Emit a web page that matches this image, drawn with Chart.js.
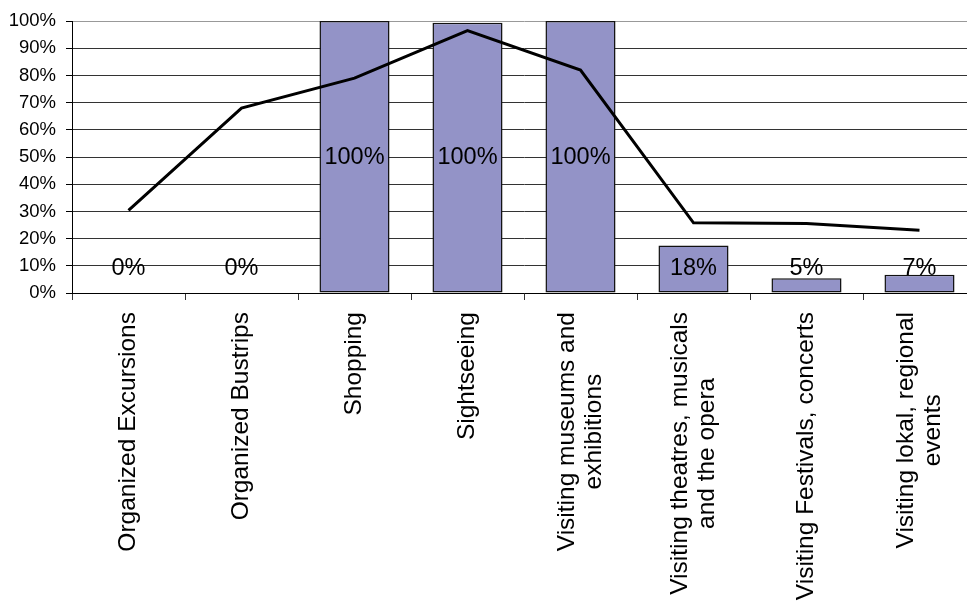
<!DOCTYPE html>
<html>
<head>
<meta charset="utf-8">
<script src="https://cdn.jsdelivr.net/npm/chart.js@4.4.1/dist/chart.umd.min.js"></script>
<style>
  html, body { margin: 0; padding: 0; background: #fff; overflow: hidden; }
  #wrap { width: 967px; height: 603px; overflow: hidden; }
  #box { width: 990px; height: 603px; }
</style>
</head>
<body>
<div id="wrap"><div id="box"><canvas id="chart"></canvas></div></div>
<script>
// data
var categories = [
  'Organized Excursions',
  'Organized Bustrips',
  'Shopping',
  'Sightseeing',
  ['Visiting museums and', 'exhibitions'],
  ['Visiting theatres, musicals', 'and the opera'],
  'Visiting Festivals, concerts',
  ['Visiting lokal, regional', 'events']
];
var barValues = [0, 0, 100, 99.4, 100, 17.5, 5.4, 6.7];
var barLabels = ['0%', '0%', '100%', '100%', '100%', '18%', '5%', '7%'];
var lineValues = [30.4, 68, 79, 96.5, 82, 25.8, 25.6, 23.1];
var yTicks = [0, 10, 20, 30, 40, 50, 60, 70, 80, 90, 100];

var FONT = 'Liberation Sans, Arial, sans-serif';

// value labels inside the bars
var barLabelPlugin = {
  id: 'barLabels',
  afterDatasetsDraw: function (chart) {
    var meta = chart.getDatasetMeta(1);
    var y = chart.scales.y;
    var c = chart.ctx;
    var base = y.getPixelForValue(0);
    c.save();
    c.font = '23.5px ' + FONT;
    c.fillStyle = '#000';
    c.textAlign = 'center';
    c.textBaseline = 'middle';
    meta.data.forEach(function (bar, i) {
      var top = y.getPixelForValue(barValues[i]);
      var ly = Math.min((top + base) / 2, base - 24);
      c.fillText(barLabels[i], bar.x, ly);
    });
    c.restore();
  }
};

// category labels, rotated, lines centred like the original
var catLabelPlugin = {
  id: 'catLabels',
  afterDraw: function (chart) {
    var x = chart.scales.x;
    var c = chart.ctx;
    var top = chart.chartArea.bottom + 19;
    c.save();
    c.font = '24.5px ' + FONT;
    c.fillStyle = '#000';
    c.textBaseline = 'middle';
    categories.forEach(function (lab, i) {
      var lines = Array.isArray(lab) ? lab : [lab];
      var cx = x.getPixelForValue(i);
      var widths = lines.map(function (l) { return c.measureText(l).width; });
      var maxW = Math.max.apply(null, widths);
      var lh = 27;
      var x0 = cx - (lines.length - 1) * lh / 2;
      lines.forEach(function (l, j) {
        c.save();
        c.translate(x0 + j * lh, top + maxW / 2);
        c.rotate(-Math.PI / 2);
        c.textAlign = 'center';
        c.fillText(l, 0, 0);
        c.restore();
      });
    });
    c.restore();
  }
};

var ctx = document.getElementById('chart').getContext('2d');
var grafik = new Chart(ctx, {
  type: 'bar',
  data: {
    labels: categories,
    datasets: [{
      type: 'line',
      data: lineValues,
      borderColor: '#000',
      borderWidth: 3,
      pointRadius: 0,
      tension: 0,
      fill: false,
      order: 0
    }, {
      type: 'bar',
      data: barValues,
      backgroundColor: '#9393C7',
      borderColor: '#111',
      borderWidth: 1.5,
      borderSkipped: false,
      barPercentage: 0.62,
      categoryPercentage: 1,
      order: 1
    }]
  },
  plugins: [barLabelPlugin, catLabelPlugin],
  options: {
    responsive: true,
    maintainAspectRatio: false,
    animation: false,
    layout: { padding: { top: 20, right: 14, left: 0, bottom: 0 } },
    plugins: {
      legend: { display: false },
      tooltip: { enabled: false }
    },
    scales: {
      x: {
        offset: true,
        grid: {
          display: true,
          offset: true,
          drawOnChartArea: false,
          drawTicks: true,
          tickLength: 7,
          color: '#333'
        },
        border: { color: '#000', width: 1 },
        ticks: { display: false },
        afterFit: function (s) { s.height = 310; }
      },
      y: {
        min: 0,
        max: 100,
        afterBuildTicks: function (s) {
          s.ticks = yTicks.map(function (v) { return { value: v }; });
        },
        grid: {
          color: function (c) { return c.tick && c.tick.value === 100 ? '#999' : '#333'; },
          tickColor: '#000',
          tickLength: 6,
          lineWidth: 1
        },
        border: { color: '#000', width: 1 },
        ticks: {
          color: '#000',
          padding: 10,
          font: { family: FONT, size: 18.5 },
          callback: function (v) { return v + '%'; }
        },
        afterFit: function (s) { s.width = 72; }
      }
    }
  }
});
</script>
</body>
</html>
